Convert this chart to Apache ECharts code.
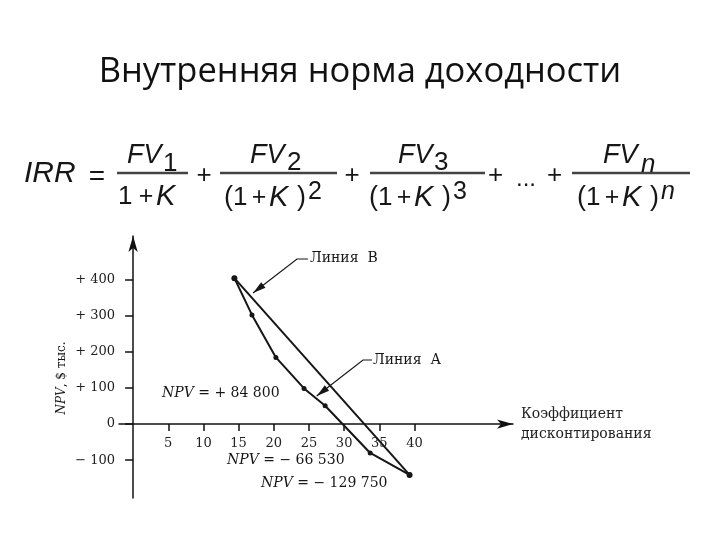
<!DOCTYPE html>
<html>
<head>
<meta charset="utf-8">
<script src="https://cdn.jsdelivr.net/npm/echarts@6/dist/echarts.min.js"></script>
<style>
  html, body { margin: 0; padding: 0; background: #fff; }
  #main { width: 720px; height: 540px; }
</style>
</head>
<body>
<div id="main"></div>
<script>
// данные графика
var xTicks = [5, 10, 15, 20, 25, 30, 35, 40];
var yTicks = [-100, 0, 100, 200, 300, 400];
// Линия А (кривая, с точками)
var lineA = [[14.4, 405], [16.9, 303], [20.3, 185], [24.3, 99], [27.3, 51], [33.7, -80], [39.3, -141]];
// Линия В (прямая)
var lineB = [[14.4, 405], [39.3, -141]];
var npvNotes = ['+ 84 800', '− 66 530', '− 129 750'];

var serif = 'DejaVu Serif';
var sans = 'Liberation Sans';
var ink = '#161616';

var chart = echarts.init(document.getElementById('main'));

function txt(s, x, y, size, italic, align, font) {
  return {
    type: 'text', x: x, y: y, silent: true,
    style: {
      text: s, fill: ink, fontSize: size, fontFamily: font || sans,
      fontStyle: italic ? 'italic' : 'normal',
      align: align || 'left', verticalAlign: 'middle'
    }
  };
}
function bar(x1, x2, y) {
  return { type: 'line', silent: true, shape: { x1: x1, y1: y, x2: x2, y2: y },
    style: { stroke: '#444', lineWidth: 2.5 } };
}
// знаменатель (1+K)^p
function denom(x0, y, p, pItalic) {
  return [
    txt('(', x0, y, 27), txt('1', x0 + 9, y, 26),
    txt('+', x0 + 35, y, 25, false, 'center'),
    txt('K', x0 + 45, y, 29, true), txt(')', x0 + 73, y, 27),
    txt(p, x0 + 84, y - 6, 25, pItalic)
  ];
}

// формула IRR
var formula = [
  txt('IRR', 24, 174, 30, true),
  txt('=', 97, 177, 28, false, 'center'),
  bar(117, 188, 173),
  txt('FV', 127, 155, 27, true), txt('1', 163, 164, 26),
  txt('1', 118, 197, 26), txt('+', 146, 197, 25, false, 'center'), txt('K', 156, 197, 29, true),
  txt('+', 204, 176, 26, false, 'center'),
  bar(220, 337, 173),
  txt('FV', 250, 155, 27, true), txt('2', 287, 163, 26),
  txt('+', 352, 176, 26, false, 'center'),
  bar(370, 485, 173),
  txt('FV', 398, 155, 27, true), txt('3', 434, 163, 26),
  txt('+', 495.5, 176, 26, false, 'center'),
  txt('...', 526, 179, 24, false, 'center'),
  txt('+', 554.5, 176, 26, false, 'center'),
  bar(572, 690, 173),
  txt('FV', 603, 155, 27, true), txt('n', 641, 165, 26, true)
].concat(denom(224, 198, '2'), denom(369, 198, '3'), denom(577, 198, 'n', true));

var title = {
  type: 'text', x: 360, y: 72, silent: true,
  style: { text: 'Внутренняя норма доходности', fill: '#111', fontSize: 34.5,
    fontFamily: 'Open Sans', align: 'center', verticalAlign: 'middle' }
};

function npvLabel(v, x, y) {
  return {
    type: 'text', x: x, y: y, silent: true,
    style: {
      text: '{i|NPV} = ' + v, fill: ink, fontSize: 14, fontFamily: serif,
      verticalAlign: 'middle',
      rich: { i: { fontStyle: 'italic', fontSize: 14, fontFamily: serif, fill: ink } }
    }
  };
}

var option = {
  animation: false,
  backgroundColor: '#fff',
  grid: { left: 119, top: 236, width: 394, height: 262 },
  xAxis: {
    type: 'value', min: -2, max: 54,
    splitLine: { show: false },
    axisLine: { onZero: true, lineStyle: { color: '#111', width: 1.5 }, symbol: ['none', 'arrow'], symbolSize: [7, 16] },
    axisTick: { show: true, length: 7, customValues: xTicks, lineStyle: { color: '#111', width: 1.5 } },
    axisLabel: { customValues: xTicks, margin: -61, color: '#222', fontFamily: serif, fontSize: 13 },
    name: 'Коэффициент\nдисконтирования', nameLocation: 'end', nameGap: 8,
    nameTextStyle: { color: '#222', fontFamily: serif, fontSize: 14, lineHeight: 20, align: 'left', verticalAlign: 'middle' }
  },
  yAxis: {
    type: 'value', min: -205, max: 522,
    splitLine: { show: false },
    axisLine: { onZero: true, lineStyle: { color: '#111', width: 1.5 }, symbol: ['none', 'arrow'], symbolSize: [7, 16] },
    axisTick: { show: true, length: 8, customValues: yTicks, lineStyle: { color: '#111', width: 1.5 } },
    axisLabel: {
      customValues: yTicks, margin: 4, color: '#222', fontFamily: serif, fontSize: 13,
      formatter: function (v) { return v > 0 ? '+ ' + v : (v < 0 ? '− ' + Math.abs(v) : '0'); }
    }
  },
  series: [
    { name: 'Линия А', type: 'line', data: lineA, symbol: 'circle', symbolSize: 5,
      lineStyle: { color: ink, width: 2 }, itemStyle: { color: ink } },
    { name: 'Линия В', type: 'line', data: lineB, symbol: 'circle', symbolSize: 6,
      lineStyle: { color: ink, width: 2 }, itemStyle: { color: ink } }
  ]
};
chart.setOption(option);

function arrowHead(tip, from) {
  var dx = tip[0] - from[0], dy = tip[1] - from[1];
  var len = Math.sqrt(dx * dx + dy * dy);
  var ux = dx / len, uy = dy / len;
  var L = 13, W = 3.5;
  var bx = tip[0] - ux * L, by = tip[1] - uy * L;
  return { type: 'polygon', silent: true,
    shape: { points: [tip, [bx - uy * W, by + ux * W], [bx + uy * W, by - ux * W]] },
    style: { fill: ink } };
}

var tipB = chart.convertToPixel({ gridIndex: 0 }, [17.05, 364]);
var tipA = chart.convertToPixel({ gridIndex: 0 }, [26.1, 78]);
var elbowB = [297, 259], elbowA = [363, 360];

var notes = [
  { type: 'polyline', silent: true, shape: { points: [[308, 259], elbowB, tipB] }, style: { stroke: ink, lineWidth: 1.2, fill: null } },
  arrowHead(tipB, elbowB),
  txt('Линия  В', 310, 258, 14, false, 'left', serif),
  { type: 'polyline', silent: true, shape: { points: [[372, 360], elbowA, tipA] }, style: { stroke: ink, lineWidth: 1.2, fill: null } },
  arrowHead(tipA, elbowA),
  txt('Линия  А', 373, 360, 14, false, 'left', serif),
  npvLabel(npvNotes[0], 162, 393),
  npvLabel(npvNotes[1], 227, 460),
  npvLabel(npvNotes[2], 261, 483),
  {
    type: 'text', x: 62, y: 378, rotation: Math.PI / 2, silent: true,
    style: { text: '{i|NPV}, $ тыс.', fill: ink, fontSize: 12, fontFamily: serif,
      align: 'center', verticalAlign: 'middle',
      rich: { i: { fontStyle: 'italic', fontSize: 12, fontFamily: serif, fill: ink } } }
  }
];

chart.setOption({ graphic: [title].concat(formula, notes) });
</script>
</body>
</html>
